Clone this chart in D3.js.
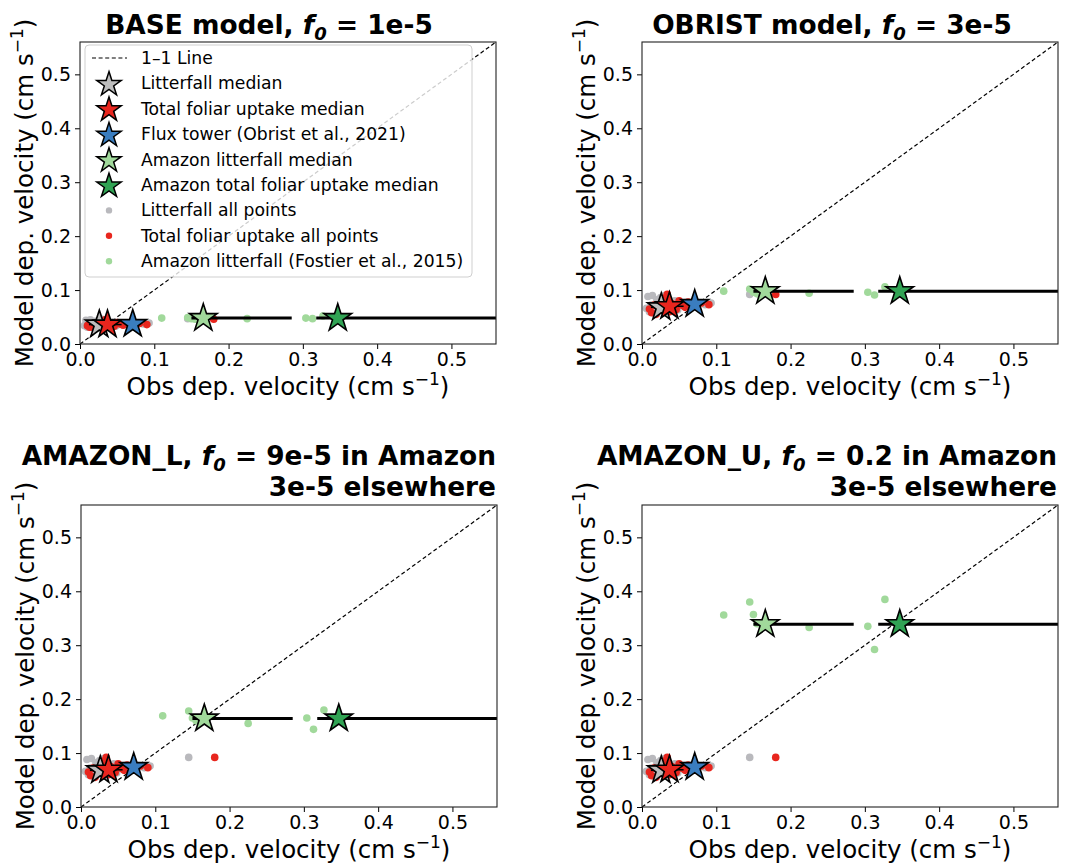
<!DOCTYPE html>
<html><head><meta charset="utf-8">
<script src="https://cdn.jsdelivr.net/npm/d3@7"></script>
<style>
body{margin:0;background:#fff;}
svg{font-family:"DejaVu Sans",sans-serif;}
</style></head>
<body><svg id="c" width="1072" height="864"></svg>
<script>
// ---------- data ----------
const tickVals = [0.0, 0.1, 0.2, 0.3, 0.4, 0.5];
const panelTitles = [
  {name:"BASE model, ", val:" = 1e-5", line2:null},
  {name:"OBRIST model, ", val:" = 3e-5", line2:null},
  {name:"AMAZON_L, ", val:" = 9e-5 in Amazon", line2:"3e-5 elsewhere"},
  {name:"AMAZON_U, ", val:" = 0.2 in Amazon", line2:"3e-5 elsewhere"}
];
// litterfall all points
const litX  = [0.006,0.008,0.010,0.012,0.014,0.016,0.018,0.020,0.022,0.025,0.028,0.030,0.033,0.036,0.040,0.044,0.048,0.052,0.058,0.065,0.075,0.085,0.093,0.145];
const litY_base = [0.034,0.044,0.031,0.037,0.045,0.034,0.030,0.042,0.036,0.044,0.032,0.046,0.030,0.038,0.034,0.041,0.033,0.036,0.039,0.036,0.038,0.037,0.039,0.047];
const litY_other = [0.066,0.088,0.060,0.072,0.090,0.065,0.056,0.082,0.070,0.086,0.062,0.090,0.058,0.075,0.066,0.080,0.063,0.071,0.077,0.070,0.074,0.073,0.076,0.092];
// total foliar uptake all points
const totX  = [0.010,0.013,0.016,0.019,0.022,0.025,0.028,0.031,0.034,0.037,0.040,0.043,0.046,0.050,0.054,0.058,0.062,0.068,0.074,0.080,0.090,0.180];
const totY_base = [0.034,0.031,0.037,0.030,0.035,0.033,0.039,0.042,0.045,0.032,0.038,0.036,0.033,0.040,0.037,0.035,0.039,0.038,0.036,0.038,0.036,0.046];
const totY_other = [0.065,0.058,0.072,0.055,0.068,0.063,0.078,0.085,0.092,0.060,0.075,0.070,0.064,0.080,0.072,0.068,0.078,0.074,0.071,0.076,0.073,0.092];
// Amazon litterfall (Fostier et al., 2015)
const amzX = [0.110,0.145,0.150,0.155,0.225,0.304,0.313,0.327];
const amzY = [
  [0.048,0.049,0.047,0.046,0.047,0.048,0.047,0.052],
  [0.098,0.102,0.096,0.093,0.094,0.096,0.091,0.106],
  [0.169,0.178,0.165,0.160,0.155,0.165,0.144,0.180],
  [0.356,0.380,0.357,0.340,0.333,0.335,0.292,0.385]
];
// medians: [litterfall, total foliar, flux tower, amazon litterfall, amazon total foliar]
const medX = [0.026, 0.037, 0.071, 0.166, 0.347];
const medY = [
  [0.036,0.036,0.037,0.048,0.048],
  [0.068,0.070,0.074,0.098,0.098],
  [0.068,0.069,0.074,0.164,0.164],
  [0.068,0.069,0.074,0.339,0.339]
];
// horizontal error ranges for medians (x low, x high)
const errLo = [0.012, 0.020, null, 0.150, 0.318];
const errHi = [0.045, 0.056, null, 0.285, 0.900];
const legendLabels = ["1\u20131 Line","Litterfall median","Total foliar uptake median","Flux tower (Obrist et al., 2021)","Amazon litterfall median","Amazon total foliar uptake median","Litterfall all points","Total foliar uptake all points","Amazon litterfall (Fostier et al., 2015)"];

// ---------- styles ----------
const C = {gray:"#b9b9bd", grayStar:"#bdbdbd", red:"#e8261e", blue:"#3a7dbf", lgreen:"#a1d99b", dgreen:"#31a354"};
const starFill = [C.grayStar, C.red, C.blue, C.lgreen, C.dgreen];
const W = 416, H = 302;
const panels = [{l:80,t:42},{l:642,t:42},{l:81,t:505},{l:642,t:505}];
const svg = d3.select("#c");
const x = d3.scaleLinear().domain([0,0.56]).range([0,W]);
const y = d3.scaleLinear().domain([0,0.56]).range([H,0]);
const star = d3.symbol().type(d3.symbolStar);

panels.forEach((p,i)=>{
  const g = svg.append("g").attr("transform",`translate(${p.l},${p.t})`);
  svg.append("defs").append("clipPath").attr("id","clip"+i)
    .append("rect").attr("width",W).attr("height",H);
  const pg = g.append("g").attr("clip-path",`url(#clip${i})`);
  // 1-1 line
  pg.append("line").attr("x1",x(0)).attr("y1",y(0)).attr("x2",x(0.56)).attr("y2",y(0.56))
    .attr("stroke","#000").attr("stroke-width",1.2).attr("stroke-dasharray","4,2.6");
  const ly = i===0 ? litY_base : litY_other;
  const ty = i===0 ? totY_base : totY_other;
  pg.selectAll(".lit").data(litX).join("circle").attr("cx",d=>x(d)).attr("cy",(d,k)=>y(ly[k])).attr("r",3.8).attr("fill",C.gray);
  pg.selectAll(".tot").data(totX).join("circle").attr("cx",d=>x(d)).attr("cy",(d,k)=>y(ty[k])).attr("r",3.8).attr("fill",C.red);
  pg.selectAll(".amz").data(amzX).join("circle").attr("cx",d=>x(d)).attr("cy",(d,k)=>y(amzY[i][k])).attr("r",3.8).attr("fill",C.lgreen);
  // error bars
  medX.forEach((mx,k)=>{
    if(errLo[k]===null) return;
    pg.append("line").attr("x1",x(errLo[k])).attr("x2",x(errHi[k]))
      .attr("y1",y(medY[i][k])).attr("y2",y(medY[i][k]))
      .attr("stroke","#000").attr("stroke-width",k>=3?3:1.5);
  });
  // stars
  medX.forEach((mx,k)=>{
    g.append("path").attr("d",star.size(235)())
      .attr("transform",`translate(${x(mx)},${y(medY[i][k])})`)
      .attr("fill",starFill[k]).attr("stroke","#000").attr("stroke-width",1.6).attr("stroke-linejoin","miter");
  });
  // axes
  const ax = g.append("g").attr("transform",`translate(0,${H})`)
    .call(d3.axisBottom(x).tickValues(tickVals).tickFormat(d3.format(".1f")).tickSize(5).tickPadding(4).tickSizeOuter(0));
  const ay = g.append("g")
    .call(d3.axisLeft(y).tickValues(tickVals).tickFormat(d3.format(".1f")).tickSize(5).tickPadding(4).tickSizeOuter(0));
  [ax,ay].forEach(a=>{
    a.select(".domain").remove();
    a.selectAll("text").attr("font-size",19).attr("fill","#000").attr("font-family","DejaVu Sans");
    a.selectAll("line").attr("stroke","#000").attr("stroke-width",1);
  });
  g.append("rect").attr("width",W).attr("height",H).attr("fill","none").attr("stroke","#222").attr("stroke-width",1.1);
  // axis labels
  const xl = g.append("text").attr("x",W/2).attr("y",H+51).attr("text-anchor","middle").attr("font-size",24.5);
  xl.append("tspan").text("Obs dep. velocity (cm s");
  xl.append("tspan").text("\u22121").attr("font-size",17).attr("dy",-10);
  xl.append("tspan").text(")").attr("dy",10);
  const yl = g.append("text").attr("transform",`translate(-47,${H/2}) rotate(-90)`).attr("text-anchor","middle").attr("font-size",24.5);
  yl.append("tspan").text("Model dep. velocity (cm s");
  yl.append("tspan").text("\u22121").attr("font-size",17).attr("dy",-10);
  yl.append("tspan").text(")").attr("dy",10);
  // titles
  const T = panelTitles[i];
  let anchor, tx;
  if(i===0){anchor="middle"; tx=189;}
  else if(i===1){anchor="middle"; tx=190;}
  else {anchor="end"; tx=W-1;}
  const ty1 = T.line2 ? -40 : -8;
  const tt = g.append("text").attr("x",tx).attr("y",ty1).attr("text-anchor",anchor)
    .attr("font-size",26.4).attr("font-weight","bold");
  tt.append("tspan").text(T.name);
  tt.append("tspan").text("f").attr("font-style","italic");
  tt.append("tspan").text("0").attr("font-style","italic").attr("font-size",18).attr("dy",6);
  tt.append("tspan").text(T.val).attr("dy",-6);
  if(T.line2){
    g.append("text").attr("x",tx).attr("y",-9).attr("text-anchor",anchor)
      .attr("font-size",26.4).attr("font-weight","bold").text(T.line2);
  }
  // legend
  if(i===0){
    const lg = g.append("g").attr("transform","translate(5,3)");
    lg.append("rect").attr("width",387).attr("height",232).attr("rx",4)
      .attr("fill","#fff").attr("fill-opacity",0.8).attr("stroke","#cfcfcf").attr("stroke-width",1);
    const rowY = k => 13 + k*25.4;
    const mX = 24;
    legendLabels.forEach((lab,k)=>{
      lg.append("text").attr("x",56).attr("y",rowY(k)).attr("dy","0.35em").attr("font-size",17.2).text(lab);
      if(k===0){
        lg.append("line").attr("x1",7).attr("x2",42).attr("y1",rowY(k)).attr("y2",rowY(k))
          .attr("stroke","#000").attr("stroke-width",1.2).attr("stroke-dasharray","4,2.6");
      } else if(k<=5){
        lg.append("path").attr("d",star.size(185)()).attr("transform",`translate(${mX},${rowY(k)+1})`)
          .attr("fill",starFill[k-1]).attr("stroke","#000").attr("stroke-width",1.5);
      } else {
        const cc = [C.gray,C.red,C.lgreen][k-6];
        lg.append("circle").attr("cx",mX).attr("cy",rowY(k)).attr("r",3.2).attr("fill",cc);
      }
    });
  }
});
</script>
</body></html>
